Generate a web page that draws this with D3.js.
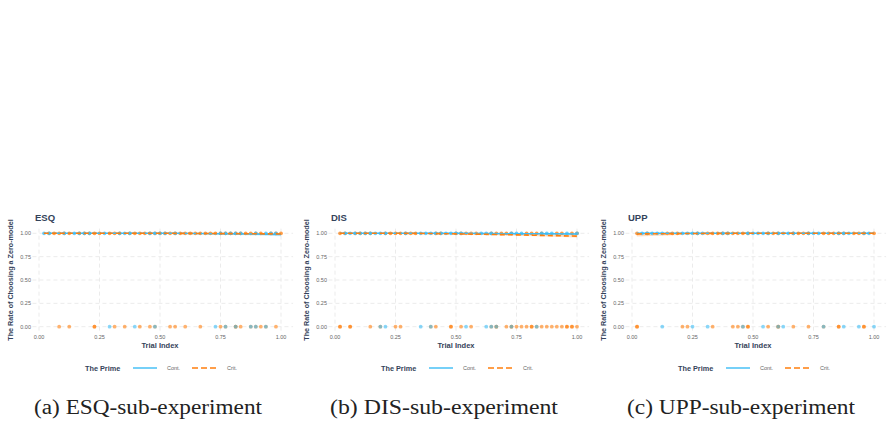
<!DOCTYPE html>
<html>
<head>
<meta charset="utf-8">
<script src="https://cdn.jsdelivr.net/npm/d3@7"></script>
<style>
  body { margin: 0; background: #fff; }
  svg { display: block; }
</style>
</head>
<body>
<svg id="chart" width="890" height="425"></svg>
<script>
// trial numbers (out of 48) with a point at rate 1 / rate 0
const nTrials = 48;
const panelNames = ["ESQ", "DIS", "UPP"];
const captions = ["(a) ESQ-sub-experiment", "(b) DIS-sub-experiment", "(c) UPP-sub-experiment"];
const xTicks = [0, 0.25, 0.5, 0.75, 1];
const yTicks = [0, 0.25, 0.5, 0.75, 1];

const esqContOne = [1,2,5,7,8,9,10,13,16,17,18,22,23,24,25,27,36,37,38,39,40,43,45,46,47];
const esqCritOne = [2,3,4,5,6,8,9,10,11,12,14,15,16,18,19,20,21,22,23,24,25,26,27,28,29,30,31,32,33,34,35,36,37,38,39,40,41,42,43,44,46,47,48];
const esqContZero = [14,19,23,35,37,39,42,43,45];
const esqCritZero = [4,6,11,11,15,17,20,22,23,26,27,29,32,36,37,39,39,40,42,43,44,45,47];

const disContOne = [2,3,4,5,6,7,8,9,10,14,17,18,19,20,21,22,23,24,25,29,30,31,35,36,37,41,42,43,46,48];
const disCritOne = [1,2,4,5,6,7,10,11,12,13,14,15,16,20,21,24,25,26,27,28,31,32,33,34,35,38,39,40,41,44,45,47,48];
const disContZero = [9,10,17,19,26,30,31,32,35,40];
const disCritZero = [1,1,3,3,7,9,12,13,19,20,23,23,25,27,31,32,32,34,35,35,36,37,38,39,39,40,41,42,43,44,45,46,46,47,47,48];

const uppContOne = [2,3,4,5,6,10,11,12,13,14,18,19,23,24,25,26,27,29,30,31,32,35,36,37,41,42,43,46,47];
const uppCritOne = [1,3,7,8,9,13,15,16,17,18,19,20,21,22,23,27,28,29,32,33,34,35,38,39,40,41,42,44,45,46,48];
const uppContZero = [6,12,15,22,26,29,30,38,42,45,48];
const uppCritZero = [1,1,10,11,16,20,21,22,23,23,27,29,29,32,35,38,41,41,46,46];

// smoothed fits with ribbon, read at these trial indices
const fitX = [0.02, 0.25, 0.5, 0.75, 1];
const esqContFit = [1, 1, 1, 0.996, 0.988];
const esqContLow = [0.998, 0.998, 0.996, 0.988, 0.968];
const esqCritFit = [1, 1, 1, 0.997, 0.993];
const esqCritLow = [0.998, 0.998, 0.997, 0.99, 0.982];
const disContFit = [1, 1, 1, 0.996, 0.993];
const disContLow = [0.998, 0.998, 0.997, 0.99, 0.982];
const disCritFit = [1, 1, 0.994, 0.983, 0.97];
const disCritLow = [0.997, 0.996, 0.988, 0.974, 0.955];
const uppContFit = [1, 1, 1, 1, 1];
const uppContLow = [0.998, 0.998, 0.998, 0.998, 0.998];
const uppCritFit = [0.993, 0.998, 1, 1, 1];
const uppCritLow = [0.965, 0.988, 0.997, 0.998, 0.998];

const panels = [
  {cOne: esqContOne, kOne: esqCritOne, cZero: esqContZero, kZero: esqCritZero,
   cFit: esqContFit, cLow: esqContLow, kFit: esqCritFit, kLow: esqCritLow},
  {cOne: disContOne, kOne: disCritOne, cZero: disContZero, kZero: disCritZero,
   cFit: disContFit, cLow: disContLow, kFit: disCritFit, kLow: disCritLow},
  {cOne: uppContOne, kOne: uppCritOne, cZero: uppContZero, kZero: uppCritZero,
   cFit: uppContFit, cLow: uppContLow, kFit: uppCritFit, kLow: uppCritLow}
];

const blue = "#3cbcf5", orange = "#ff7f0e";
const txt = "#34435a", tick = "#666", grid = "#e6e6e6";
const offsets = [0, 296, 593];

const svg = d3.select("#chart");
const x = d3.scaleLinear().domain([0, 1]).range([39, 281]);
const y = d3.scaleLinear().domain([0, 1]).range([326.7, 233.3]);
const pLeft = x(-0.027), pRight = x(1.05), pTop = y(1.05), pBottom = y(-0.05);

panels.forEach(function(p, i) {
  const g = svg.append("g").attr("transform", "translate(" + offsets[i] + ",0)");

  // grid
  g.selectAll("line.vg").data(xTicks).enter().append("line")
    .attr("x1", d => x(d)).attr("x2", d => x(d))
    .attr("y1", pTop).attr("y2", pBottom)
    .attr("stroke", grid).attr("stroke-width", 0.8).attr("stroke-dasharray", "4,3");
  g.selectAll("line.hg").data(yTicks).enter().append("line")
    .attr("x1", pLeft).attr("x2", pRight)
    .attr("y1", d => y(d)).attr("y2", d => y(d))
    .attr("stroke", grid).attr("stroke-width", 0.8).attr("stroke-dasharray", "4,3");

  // tick labels
  g.selectAll("text.yt").data(yTicks).enter().append("text")
    .attr("x", 31).attr("y", d => y(d) + 2)
    .attr("text-anchor", "end").attr("font-size", 5.5).attr("fill", tick)
    .text(d => d3.format(".2f")(d));
  g.selectAll("text.xt").data(xTicks).enter().append("text")
    .attr("x", d => x(d)).attr("y", 339)
    .attr("text-anchor", "middle").attr("font-size", 5.5).attr("fill", tick)
    .text(d => d3.format(".2f")(d));

  // ribbons
  const area = d3.area().curve(d3.curveMonotoneX)
    .x(d => x(d[0])).y0(d => y(d[2])).y1(d => y(Math.min(1.002, 2 * d[1] - d[2])));
  g.append("path").datum(fitX.map((v, j) => [v, p.kFit[j], p.kLow[j]]))
    .attr("d", area).attr("fill", orange).attr("opacity", 0.25);
  g.append("path").datum(fitX.map((v, j) => [v, p.cFit[j], p.cLow[j]]))
    .attr("d", area).attr("fill", blue).attr("opacity", 0.25);

  // points: crit first, cont on top
  const pts = [];
  p.kOne.forEach(t => pts.push({t: t, v: 1, c: orange}));
  p.kZero.forEach(t => pts.push({t: t, v: 0, c: orange}));
  p.cOne.forEach(t => pts.push({t: t, v: 1, c: blue}));
  p.cZero.forEach(t => pts.push({t: t, v: 0, c: blue}));
  g.selectAll("circle").data(pts).enter().append("circle")
    .attr("cx", d => x(d.t / nTrials)).attr("cy", d => y(d.v))
    .attr("r", 1.9).attr("fill", d => d.c).attr("opacity", d => d.v === 1 ? 0.75 : 0.6);

  // fitted lines
  const line = d3.line().curve(d3.curveMonotoneX).x(d => x(d[0])).y(d => y(d[1]));
  g.append("path").datum(fitX.map((v, j) => [v, p.cFit[j]]))
    .attr("d", line).attr("fill", "none").attr("stroke", blue).attr("stroke-width", 1.5);
  g.append("path").datum(fitX.map((v, j) => [v, p.kFit[j]]))
    .attr("d", line).attr("fill", "none").attr("stroke", orange).attr("stroke-width", 1.6)
    .attr("stroke-dasharray", "5,3");

  // titles
  g.append("text").attr("x", 35).attr("y", 221)
    .attr("font-size", 9.5).attr("font-weight", "bold").attr("fill", txt)
    .text(panelNames[i]);
  g.append("text").attr("transform", "translate(12.5,280) rotate(-90)")
    .attr("text-anchor", "middle").attr("font-size", 7.2).attr("font-weight", "bold").attr("fill", txt)
    .text("The Rate of Choosing a Zero-model");
  g.append("text").attr("x", x(0.5)).attr("y", 348)
    .attr("text-anchor", "middle").attr("font-size", 7.5).attr("font-weight", "bold").attr("fill", txt)
    .text("Trial Index");

  // legend
  const lg = g.append("g").attr("transform", "translate(0,368)");
  lg.append("text").attr("x", 85).attr("y", 2.5)
    .attr("font-size", 7.3).attr("font-weight", "bold").attr("fill", txt).text("The Prime");
  lg.append("line").attr("x1", 133).attr("x2", 157).attr("y1", 0).attr("y2", 0)
    .attr("stroke", blue).attr("stroke-width", 1.4);
  lg.append("text").attr("x", 167).attr("y", 2).attr("font-size", 5.5).attr("fill", tick).text("Cont.");
  lg.append("line").attr("x1", 192).attr("x2", 216).attr("y1", 0).attr("y2", 0)
    .attr("stroke", orange).attr("stroke-width", 1.4).attr("stroke-dasharray", "6,3");
  lg.append("text").attr("x", 227).attr("y", 2).attr("font-size", 5.5).attr("fill", tick).text("Crit.");

  // caption
  g.append("text").attr("x", 148).attr("y", 413.5)
    .attr("text-anchor", "middle").attr("font-family", "Liberation Serif, serif")
    .attr("font-size", 20).attr("fill", "#222")
    .attr("textLength", 228).attr("lengthAdjust", "spacingAndGlyphs")
    .text(captions[i]);
});

svg.selectAll("text:not([font-family])").attr("font-family", "Liberation Sans, Arial, sans-serif");
</script>
</body>
</html>
